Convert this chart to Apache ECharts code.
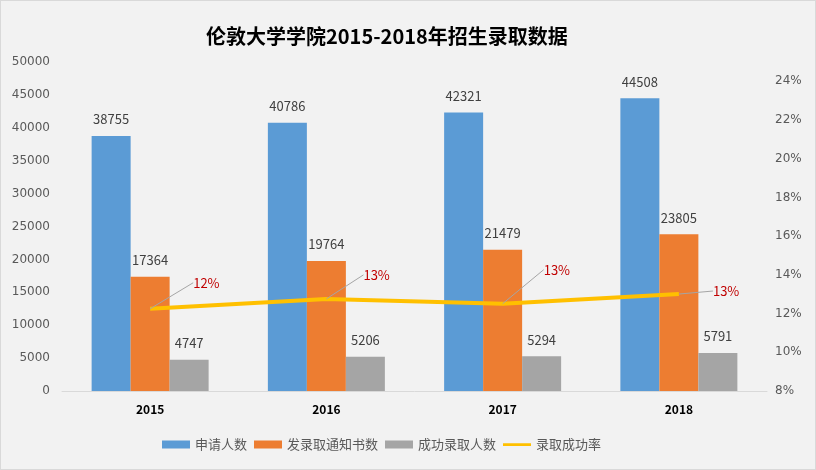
<!DOCTYPE html>
<html>
<head>
<meta charset="utf-8">
<script src="https://cdn.jsdelivr.net/npm/echarts@6/dist/echarts.min.js"></script>
<style>
html,body{margin:0;padding:0;background:#fff;}
#c{width:814px;height:468px;border:1px solid #D9D9D9;background:#F2F2F2;}
</style>
</head>
<body>
<div id="c"></div>
<script>
var years = ['2015', '2016', '2017', '2018'];
var applicants = [38755, 40786, 42321, 44508];
var offers = [17364, 19764, 21479, 23805];
var enrolled = [4747, 5206, 5294, 5791];
var rate = [0.1225, 0.1276, 0.1251, 0.1301];
var seriesNames = ['申请人数', '发录取通知书数', '成功录取人数', '录取成功率'];
var labelOffsets = [[38, -26], [32, -24], [36, -34], [29, -3]];

var FONT = '"Noto Sans CJK SC", "Noto Sans", sans-serif';
var chart = echarts.init(document.getElementById('c'), null, {renderer: 'canvas'});
function barSeries(name, data, color) {
  return {
    name: name, type: 'bar', data: data, barWidth: 39, barGap: '0%',
    itemStyle: {color: color},
    label: {show: true, position: 'top', distance: 10, color: '#404040', fontSize: 13, fontFamily: FONT}
  };
}
chart.setOption({
  backgroundColor: '#F2F2F2',
  textStyle: {fontFamily: FONT},
  title: {
    text: '伦敦大学学院2015-2018年招生录取数据',
    left: 200, top: 20,
    textStyle: {fontSize: 20, fontWeight: 'bold', color: '#000', fontFamily: FONT}
  },
  grid: {left: 61, right: 48, top: 61, bottom: 78},
  legend: {
    bottom: 13, left: 156,
    itemWidth: 28, itemHeight: 8, itemGap: 7,
    textStyle: {color: '#595959', fontSize: 13, fontFamily: FONT},
    data: [
      {name: seriesNames[0], icon: 'rect'},
      {name: seriesNames[1], icon: 'rect'},
      {name: seriesNames[2], icon: 'rect'},
      {name: seriesNames[3], icon: 'path://M0,0h0.1v0.1h-0.1z M0,2.7h28v2.8h-28z M27.9,7.9h0.1v0.1h-0.1z'}
    ]
  },
  xAxis: {
    type: 'category', data: years,
    axisLine: {lineStyle: {color: '#D9D9D9'}},
    axisTick: {show: false},
    axisLabel: {color: '#000', fontWeight: 'bold', fontSize: 12, margin: 12}
  },
  yAxis: [
    {
      type: 'value', min: 0, max: 50000, interval: 5000,
      splitLine: {show: false}, axisLine: {show: false}, axisTick: {show: false},
      axisLabel: {color: '#595959', fontSize: 12, margin: 12, fontFamily: 'DejaVu Sans',
        formatter: function (v) { return String(v); }}
    },
    {
      type: 'value', min: 0.08, max: 0.25, interval: 0.02,
      splitLine: {show: false}, axisLine: {show: false}, axisTick: {show: false},
      axisLabel: {
        color: '#595959', fontSize: 12, margin: 8, showMaxLabel: false, fontFamily: 'DejaVu Sans',
        formatter: function (v) { return Math.round(v * 100) + '%'; }
      }
    }
  ],
  series: [
    barSeries(seriesNames[0], applicants, '#5B9BD5'),
    barSeries(seriesNames[1], offers, '#ED7D31'),
    barSeries(seriesNames[2], enrolled, '#A5A5A5'),
    {
      name: seriesNames[3], type: 'line', yAxisIndex: 1, data: rate,
      showSymbol: true, symbol: 'circle', symbolSize: 0.1,
      lineStyle: {color: '#FFC000', width: 4},
      itemStyle: {color: '#FFC000'},
      z: 5,
      label: {
        show: true, position: 'right', distance: 5,
        color: '#C00000', fontSize: 13, fontFamily: FONT,
        formatter: function (p) { return Math.round(p.value * 100) + '%'; }
      },
      labelLine: {show: true, lineStyle: {color: '#A5A5A5', width: 1}},
      labelLayout: function (p) {
        var o = labelOffsets[p.dataIndex];
        return {dx: o[0], dy: o[1]};
      }
    }
  ]
});
</script>
</body>
</html>
